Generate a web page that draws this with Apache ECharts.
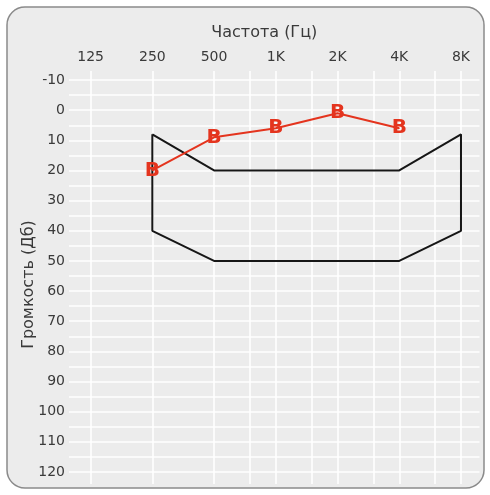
<!DOCTYPE html>
<html>
<head>
<meta charset="utf-8">
<script src="https://cdn.jsdelivr.net/npm/echarts@6/dist/echarts.min.js"></script>
<style>
  html, body { margin: 0; padding: 0; background: #ffffff; }
  #chart { width: 490px; height: 495px; }
</style>
</head>
<body>
<div id="chart"></div>
<script>
// Audiogram: test frequencies along the top, hearing level down the side.
const freqHz = [125, 250, 500, 1000, 2000, 4000, 8000];
const freqLabels = ['125', '250', '500', '1K', '2K', '4K', '8K'];
const dbTicks = [-10, 0, 10, 20, 30, 40, 50, 60, 70, 80, 90, 100, 110, 120];

// Background grid lines (Hz across, dB down)
const gridHz = [125, 250, 500, 750, 1000, 1500, 2000, 3000, 4000, 6000, 8000];
const gridDb = [-10, -5, 0, 5, 10, 15, 20, 25, 30, 35, 40, 45, 50, 55, 60,
                65, 70, 75, 80, 85, 90, 95, 100, 105, 110, 115, 120];

// Outline of the speech zone
const zoneHz = [250, 500, 4000, 8000, 8000, 4000, 500, 250, 250];
const zoneDb = [8, 20, 20, 8, 40, 50, 50, 40, 8];

// Measured thresholds ("B" marks)
const resultHz = [250, 500, 1000, 2000, 4000];
const resultDb = [20, 9, 6, 1, 6];

// Frequencies are placed on an octave scale starting at 125 Hz
const octave = hz => Math.log2(hz / 125);
const pairs = (xs, ys) => xs.map((x, i) => [octave(x), ys[i]]);

const font = '"DejaVu Sans", Verdana, sans-serif';
const textColor = '#3a3a3a';
const red = '#e4341e';

const chart = echarts.init(document.getElementById('chart'), null, { renderer: 'canvas' });

chart.setOption({
  backgroundColor: '#ffffff',
  animation: false,
  graphic: [{
    type: 'rect',
    z: -10,
    silent: true,
    shape: { x: 7, y: 7, width: 477, height: 481, r: 18 },
    style: { fill: '#ececec', stroke: '#8a8a8a', lineWidth: 1.5 }
  }],
  grid: { left: 69, right: 10.5, top: 71, bottom: 11, containLabel: false },
  xAxis: {
    type: 'value',
    position: 'top',
    min: -0.35,
    max: 6.3,
    name: 'Частота (Гц)',
    nameLocation: 'middle',
    nameMoveOverlap: false,
    nameGap: 30,
    nameTextStyle: { fontFamily: font, fontSize: 16, color: textColor, padding: [0, 20, 0, 0] },
    axisLine: { show: false },
    axisTick: { show: false },
    splitLine: { show: false },
    axisLabel: {
      customValues: freqHz.map(octave),
      formatter: v => freqLabels[Math.round(v)],
      fontFamily: font,
      fontSize: 14,
      color: textColor,
      margin: 7
    }
  },
  yAxis: {
    type: 'value',
    inverse: true,
    min: -13,
    max: 124,
    name: 'Громкость (Дб)',
    nameLocation: 'middle',
    nameMoveOverlap: false,
    nameGap: 32,
    nameTextStyle: { fontFamily: font, fontSize: 16, color: textColor, padding: [0, 14, 0, 0] },
    axisLine: { show: false },
    axisTick: { show: false },
    splitLine: { show: false },
    axisLabel: {
      customValues: dbTicks,
      fontFamily: font,
      fontSize: 14,
      color: textColor,
      margin: 4
    }
  },
  series: [
    {
      // white background grid
      type: 'line',
      data: [],
      z: 1,
      silent: true,
      markLine: {
        z: 1,
        silent: true,
        symbol: 'none',
        label: { show: false },
        lineStyle: { color: '#ffffff', width: 1.6, type: 'solid', opacity: 0.95 },
        data: gridHz.map(h => ({ xAxis: octave(h) }))
          .concat(gridDb.map(d => ({ yAxis: d })))
      }
    },
    {
      type: 'line',
      z: 3,
      data: pairs(zoneHz, zoneDb),
      showSymbol: false,
      symbol: 'none',
      lineStyle: { color: '#161616', width: 2 }
    },
    {
      type: 'line',
      z: 4,
      data: pairs(resultHz, resultDb),
      symbol: 'circle',
      symbolSize: 1,
      itemStyle: { color: red },
      lineStyle: { color: red, width: 2 },
      label: {
        show: true,
        position: 'inside',
        formatter: 'B',
        fontFamily: font,
        fontWeight: 'bold',
        fontSize: 20,
        color: red
      }
    }
  ]
});
</script>
</body>
</html>
